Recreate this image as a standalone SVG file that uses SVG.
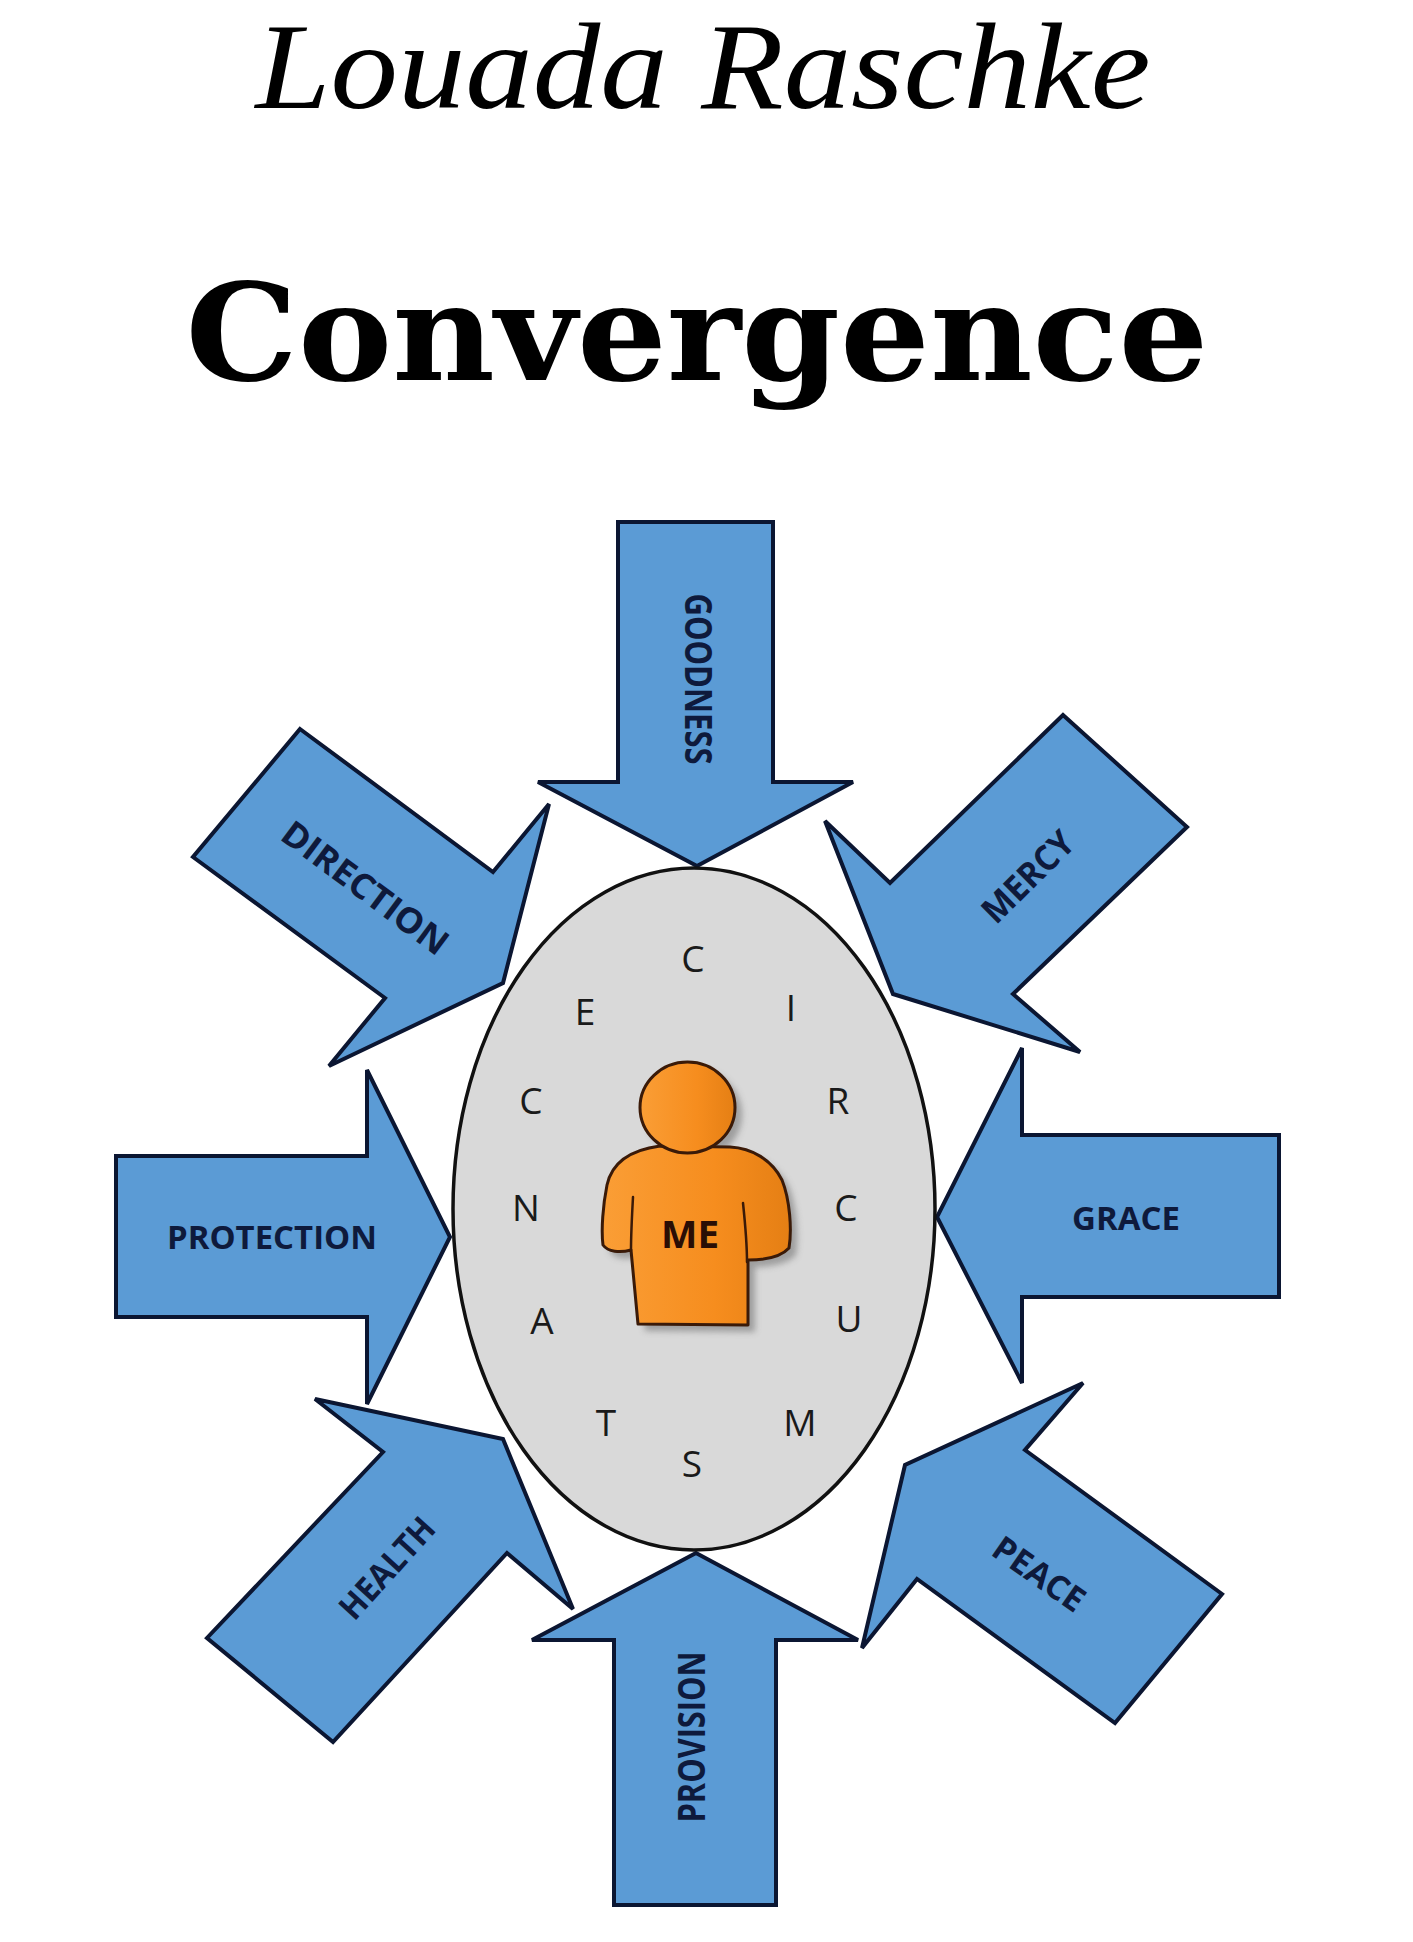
<svg xmlns="http://www.w3.org/2000/svg" width="1413" height="1942" viewBox="0 0 1413 1942">
<style>
.arrow{fill:#5B9BD5;stroke:#0B1632;stroke-width:4;stroke-linejoin:miter}
.lbl{font-family:"Open Sans","Liberation Sans",sans-serif;font-weight:700;fill:#0E1A3C;text-anchor:middle}
.ltr{font-family:"Open Sans","Liberation Sans",sans-serif;font-weight:400;font-size:37px;fill:#1A1A1A;text-anchor:middle}
.body{fill:url(#og);stroke:#3A1A08;stroke-width:3;stroke-linejoin:round}
</style>
<defs>
<linearGradient id="og" x1="0" y1="0" x2="1" y2="0">
<stop offset="0" stop-color="#FA9E36"/>
<stop offset="0.6" stop-color="#F68D1E"/>
<stop offset="1" stop-color="#E57F14"/>
</linearGradient>
<filter id="blur" x="-20%" y="-20%" width="140%" height="140%"><feGaussianBlur stdDeviation="3"/></filter>
</defs>
<rect width="1413" height="1942" fill="#FFFFFF"/>

<g id="author">
<text x="703" y="108" font-family="'Liberation Serif',serif" font-style="italic" font-size="122" textLength="895" lengthAdjust="spacingAndGlyphs" text-anchor="middle" fill="#000">Louada Raschke</text>
</g>
<g id="title">
<text x="697" y="380" font-family="'DejaVu Serif',serif" font-weight="700" font-size="134" textLength="1023" lengthAdjust="spacingAndGlyphs" text-anchor="middle" fill="#000">Convergence</text>
</g>

<g id="connectors"></g>

<g id="node-goodness">
<polygon class="arrow" points="618,522 773,522 773,782 853,782 697,866 538,782 618,782"/>
<text class="lbl" transform="translate(698,679) rotate(90)" y="13" font-size="37" textLength="171" lengthAdjust="spacingAndGlyphs">GOODNESS</text>
</g>
<g id="node-mercy">
<polygon class="arrow" points="1063,715 1187,827 1013,994 1080,1052 893,994 825,821 890,883"/>
<text class="lbl" transform="translate(1028,877) rotate(-44.7)" y="12" font-size="35" textLength="114" lengthAdjust="spacingAndGlyphs">MERCY</text>
</g>
<g id="node-grace">
<polygon class="arrow" points="1279,1135 1022,1135 1022,1048 937,1217 1022,1383 1022,1297 1279,1297"/>
<text class="lbl" x="1126" y="1230" font-size="33" textLength="108" lengthAdjust="spacingAndGlyphs">GRACE</text>
</g>
<g id="node-peace">
<polygon class="arrow" points="1083,1383 905,1465 862,1648 917,1579 1115,1723 1222,1594 1025,1450"/>
<text class="lbl" transform="translate(1039,1574) rotate(35)" y="12" font-size="34" textLength="104" lengthAdjust="spacingAndGlyphs">PEACE</text>
</g>
<g id="node-provision">
<polygon class="arrow" points="614,1905 776,1905 776,1640 858,1640 696,1553 532,1640 614,1640"/>
<text class="lbl" transform="translate(692,1737) rotate(-90)" y="13" font-size="37" textLength="171" lengthAdjust="spacingAndGlyphs">PROVISION</text>
</g>
<g id="node-health">
<polygon class="arrow" points="315,1399 503,1439 573,1609 507,1553 333,1742 207,1638 383,1452"/>
<text class="lbl" transform="translate(387,1568) rotate(-47.8)" y="12" font-size="34" textLength="124" lengthAdjust="spacingAndGlyphs">HEALTH</text>
</g>
<g id="node-protection">
<polygon class="arrow" points="116,1156 367,1156 367,1070 450,1237 367,1404 367,1317 116,1317"/>
<text class="lbl" x="272" y="1249" font-size="32" textLength="210" lengthAdjust="spacingAndGlyphs">PROTECTION</text>
</g>
<g id="node-direction">
<polygon class="arrow" points="300,729 493,872 549,804 503,983 329,1066 385,998 193,857"/>
<text class="lbl" transform="translate(365,888) rotate(36.7)" y="12" font-size="35" textLength="198" lengthAdjust="spacingAndGlyphs">DIRECTION</text>
</g>

<g id="node-circumstances">
<ellipse cx="694" cy="1209" rx="241" ry="341" fill="#D9D9D9" stroke="#111111" stroke-width="3.5"/>
<text class="ltr" x="693" y="972">C</text>
<text class="ltr" x="791" y="1021">I</text>
<text class="ltr" x="838" y="1114">R</text>
<text class="ltr" x="846" y="1221">C</text>
<text class="ltr" x="849" y="1332">U</text>
<text class="ltr" x="800" y="1436">M</text>
<text class="ltr" x="692" y="1477">S</text>
<text class="ltr" x="606" y="1436">T</text>
<text class="ltr" x="542" y="1334">A</text>
<text class="ltr" x="526" y="1221">N</text>
<text class="ltr" x="531" y="1114">C</text>
<text class="ltr" x="585" y="1025">E</text>
</g>

<g id="node-me">
<g transform="translate(7,7)" fill="#8A8A8A" opacity="0.75" filter="url(#blur)">
<path d="M660 1146 C630 1150 612 1162 607 1185 C603 1205 601 1230 603 1245 C608 1252 620 1253 631 1250 L638 1324 L748 1325 L748 1260 C760 1260 780 1258 789 1248 C792 1230 790 1200 782 1180 C772 1160 752 1148 730 1147 Z"/>
<ellipse cx="687.5" cy="1107.5" rx="47.5" ry="45.5"/>
</g>
<path class="body" d="M660 1146 C630 1150 612 1162 607 1185 C603 1205 601 1230 603 1245 C608 1252 620 1253 631 1250 L638 1324 L748 1325 L748 1260 C760 1260 780 1258 789 1248 C792 1230 790 1200 782 1180 C772 1160 752 1148 730 1147 Z"/>
<path d="M633 1197 C632 1215 631 1233 631 1250" fill="none" stroke="#3A1A08" stroke-width="2.5" stroke-linecap="round"/>
<path d="M743 1203 C745 1222 747 1242 747 1262" fill="none" stroke="#3A1A08" stroke-width="2.5" stroke-linecap="round"/>
<ellipse class="body" cx="687.5" cy="1107.5" rx="47.5" ry="45.5"/>
<text x="690" y="1248" font-family="'Open Sans','Liberation Sans',sans-serif" font-weight="700" font-size="37" textLength="58" lengthAdjust="spacingAndGlyphs" text-anchor="middle" fill="#2A0E05">ME</text>
</g>
</svg>
